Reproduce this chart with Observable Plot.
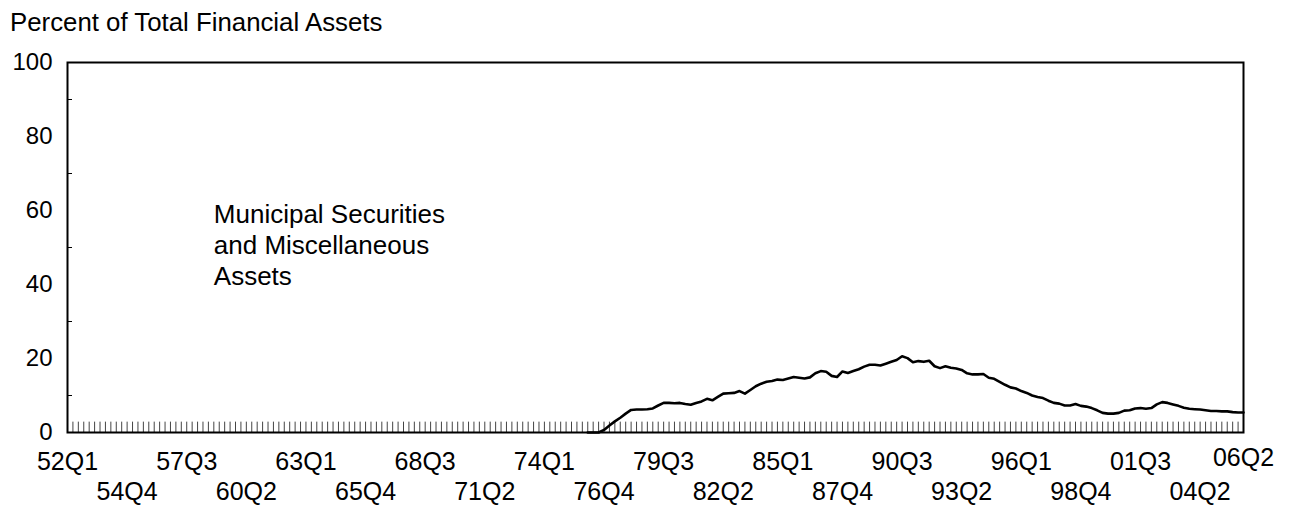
<!DOCTYPE html>
<html><head><meta charset="utf-8">
<script src="https://cdn.jsdelivr.net/npm/d3@7"></script>
<script src="https://cdn.jsdelivr.net/npm/@observablehq/plot@0.6"></script>
<style>
body{margin:0;background:#fff;font-family:"Liberation Sans",Arial,sans-serif}
#wrap{position:relative;width:1294px;height:506px}
#title{position:absolute;left:10px;top:9px;font-size:25.8px;line-height:26px;color:#000;white-space:nowrap}
</style></head><body>
<div id="wrap"><div id="title">Percent of Total Financial Assets</div></div>
<script>
// Quarter categories 52Q1 .. 06Q2
const quarters = [];
for (let y = 1952; y <= 2006; y++) for (let q = 1; q <= 4; q++) {
  if (y === 2006 && q > 2) break;
  quarters.push(String(y % 100).padStart(2, "0") + "Q" + q);
}
// Series values, starting at 76Q1
const seriesStart = "76Q1";
const values = [
  0, 0, 0, 0.7, 1.9, 3.0, 4.0, 5.1, 6.1, 6.2, 6.2, 6.3, 6.5, 7.3, 8.0, 8.0,
  7.9, 8.0, 7.7, 7.5, 8.0, 8.4, 9.1, 8.7, 9.6, 10.5, 10.6, 10.7, 11.2, 10.5, 11.5, 12.5,
  13.2, 13.7, 13.9, 14.3, 14.2, 14.6, 15.0, 14.8, 14.6, 14.9, 16.0, 16.6, 16.4, 15.3, 15.0, 16.5,
  16.1, 16.6, 17.1, 17.8, 18.3, 18.3, 18.1, 18.6, 19.1, 19.6, 20.6, 20.1, 19.0, 19.3, 19.1, 19.4,
  17.9, 17.4, 17.9, 17.5, 17.3, 16.9, 16.0, 15.7, 15.7, 15.8, 14.8, 14.5, 13.7, 12.9, 12.2, 11.9,
  11.2, 10.7, 10.0, 9.6, 9.3, 8.6, 8.0, 7.8, 7.3, 7.3, 7.7, 7.2, 7.0, 6.6, 6.0, 5.3,
  5.1, 5.1, 5.3, 5.9, 6.0, 6.5, 6.6, 6.4, 6.6, 7.6, 8.2, 8.0, 7.6, 7.2, 6.7, 6.4,
  6.3, 6.2, 6.0, 5.8, 5.8, 5.7, 5.7, 5.5, 5.4, 5.4
];
const topLabels = ["52Q1","57Q3","63Q1","68Q3","74Q1","79Q3","85Q1","90Q3","96Q1","01Q3"];
const bottomLabels = ["54Q4","60Q2","65Q4","71Q2","76Q4","82Q2","87Q4","93Q2","98Q4","04Q2"];
const endLabels = ["06Q2"];
const majorY = [0, 20, 40, 60, 80, 100];
const minorY = [10, 30, 50, 70, 90];
const annotation = "Municipal Securities\nand Miscellaneous\nAssets";
const annotationQuarter = "58Q4";
const annotationValue = 51;

const i0 = quarters.indexOf(seriesStart);
const series = values.map((v, k) => ({q: quarters[i0 + k], v}));

const chart = Plot.plot({
  width: 1294, height: 506,
  marginTop: 62, marginBottom: 74, marginLeft: 67, marginRight: 51,
  x: {type: "point", domain: quarters, padding: 0, axis: null},
  y: {domain: [0, 100]},
  style: {fontFamily: "'Liberation Sans', Arial, sans-serif", fontSize: "24px", color: "#000", background: "transparent"},
  marks: [
    Plot.ruleX(quarters, {x: d => d, y1: 0, y2: 2.8, stroke: "#444", strokeWidth: 1}),
    Plot.axisY({ticks: majorY, tickSize: 0, tickPadding: 15, fontSize: 24, anchor: "left", label: null}),
    Plot.axisY({ticks: minorY, tickSize: 5, dx: 5, text: null, anchor: "left", label: null}),
    Plot.line(series, {x: "q", y: "v", stroke: "#000", strokeWidth: 2.6}),
    Plot.frame({stroke: "#000", strokeWidth: 2}),
    Plot.text(topLabels, {x: d => d, frameAnchor: "bottom", dy: 37, fontSize: 25, fill: "#000"}),
    Plot.text(bottomLabels, {x: d => d, frameAnchor: "bottom", dy: 67, fontSize: 25, fill: "#000"}),
    Plot.text(endLabels, {x: d => d, frameAnchor: "bottom", dy: 33, fontSize: 25, fill: "#000"}),
    Plot.text([annotation], {x: () => annotationQuarter, y: () => annotationValue, text: d => d, textAnchor: "start", lineHeight: 1.2, fontSize: 26, fill: "#000"})
  ]
});
document.getElementById("wrap").appendChild(chart);
</script>
</body></html>
